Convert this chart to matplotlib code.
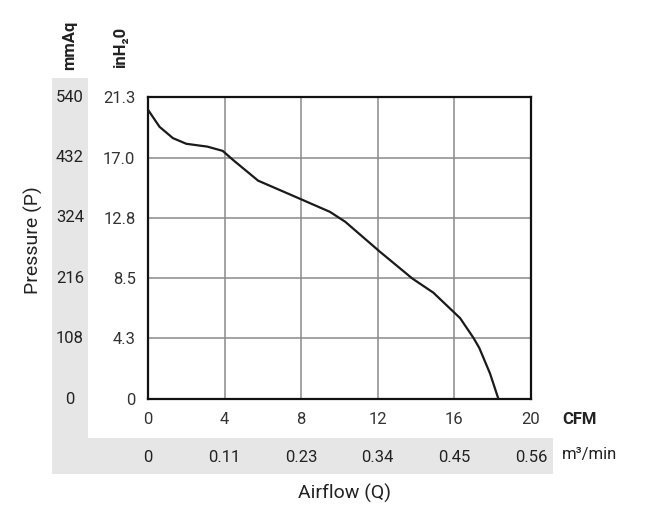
import matplotlib.pyplot as plt
from matplotlib.patches import Rectangle
import matplotlib.transforms as mtransforms

plt.rcParams['font.family'] = ['Roboto', 'DejaVu Sans']

# fan curve (CFM, inH2O)
cfm = [0, 0.6, 1.3, 2.0, 3.1, 3.9, 4.45, 5.75, 7.8, 9.5, 10.3, 12.1, 13.8, 14.9, 16.3, 17.0, 17.3, 17.86, 18.3]
inh2o = [20.4, 19.2, 18.4, 18.0, 17.8, 17.5, 16.85, 15.4, 14.2, 13.2, 12.5, 10.4, 8.5, 7.5, 5.7, 4.3, 3.6, 1.8, 0]

cfm_ticks = [0, 4, 8, 12, 16, 20]
m3_labels = ['0', '0.11', '0.23', '0.34', '0.45', '0.56']
inh2o_ticks = [0, 4.3, 8.5, 12.8, 17.0, 21.3]
inh2o_labels = ['0', '4.3', '8.5', '12.8', '17.0', '21.3']
mmaq_labels = ['0', '108', '216', '324', '432', '540']

W, H = 650, 526
fig = plt.figure(figsize=(6.5, 5.26), dpi=100)


def px(x, y):
    return x / W, 1 - y / H


# grey L-shaped band behind the mmAq column and the m3/min row
band = '#e6e6e6'
x0, y0 = px(52, 474)
x1, y1 = px(88, 78)
fig.add_artist(Rectangle((x0, y0), x1 - x0, y1 - y0, transform=fig.transFigure,
                         color=band, zorder=0, lw=0))
x1, y1 = px(553, 438)
fig.add_artist(Rectangle((x0, y0), x1 - x0, y1 - y0, transform=fig.transFigure,
                         color=band, zorder=0, lw=0))

l, b = px(148, 399)
r, t = px(531, 97)
ax = fig.add_axes([l, b, r - l, t - b])
ax.set_facecolor('white')

ax.plot(cfm, inh2o, color='#1a1a1a', lw=1.6, zorder=3)

ax.set_xlim(0, 20)
ax.set_ylim(0, 21.3)
ax.set_xticks(cfm_ticks)
ax.set_yticks(inh2o_ticks)
ax.set_yticklabels(inh2o_labels)
ax.tick_params(length=0, labelsize=12, labelcolor='#333333', pad=9)
ax.grid(color='#8a8a8a', lw=1.1)
for s in ax.spines.values():
    s.set_color('#111111')
    s.set_linewidth(1.6)

# mmAq column
trans_y = mtransforms.blended_transform_factory(fig.transFigure, ax.transData)
for v, lab in zip(inh2o_ticks, mmaq_labels):
    ax.text(70 / W, v, lab, transform=trans_y, ha='center', va='center',
            fontsize=12, color='#222222')

# m3/min row
trans_x = mtransforms.blended_transform_factory(ax.transData, fig.transFigure)
for v, lab in zip(cfm_ticks, m3_labels):
    ax.text(v, 1 - 457 / H, lab, transform=trans_x, ha='center', va='center',
            fontsize=12, color='#222222')

fig.text(*px(562, 419), 'CFM', ha='left', va='center', fontsize=12,
         fontweight='bold', color='#222222')
fig.text(*px(562, 455), 'm³/min', ha='left', va='center', fontsize=12,
         color='#222222')
fig.text(*px(70, 45), 'mmAq', ha='center', va='center', rotation=90,
         fontsize=12, fontweight='bold', color='#222222')
fig.text(*px(121, 47), 'inH₂0', ha='center', va='center', rotation=90,
         fontsize=12, fontweight='bold', color='#222222',
         family=['Roboto', 'DejaVu Sans'])
fig.text(*px(33, 240), 'Pressure (P)', ha='center', va='center', rotation=90,
         fontsize=14, color='#222222')
fig.text(*px(345, 493), 'Airflow (Q)', ha='center', va='center',
         fontsize=14, color='#222222')

fig.savefig('out.png', dpi=100)
